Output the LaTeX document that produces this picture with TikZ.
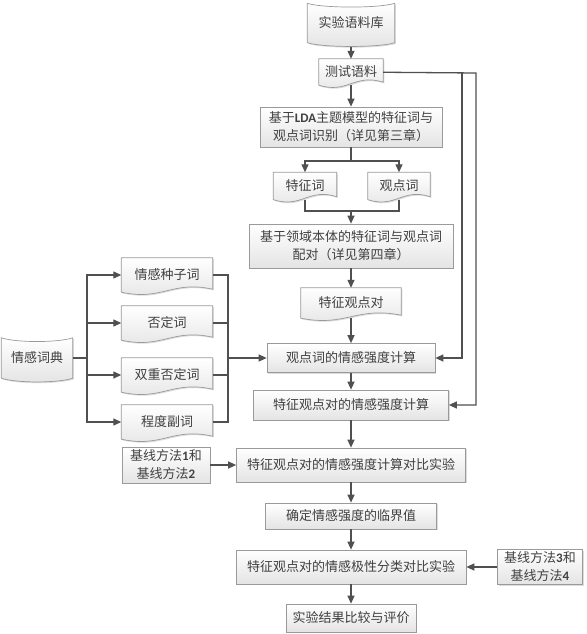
\documentclass[tikz,border=0pt]{standalone}
\usepackage{fontspec}
\setmainfont{Noto Sans CJK SC}
\newfontfamily\latinfont{Carlito}
\usetikzlibrary{arrows.meta, calc, backgrounds, shadows}

\definecolor{textgray}{HTML}{404040}
\definecolor{linegray}{HTML}{9A9A9A}
\definecolor{fillgray}{HTML}{E4E4E4}
\definecolor{arrowgray}{HTML}{505050}

\begin{document}
\begin{tikzpicture}
  [x=1pt, y=-1pt,
   font=\fontsize{13}{18}\selectfont, text=textgray,
   softshadow/.style={drop shadow={shadow xshift=1.2pt, shadow yshift=-1.2pt, opacity=0.3, fill=black!45}},
   procbox/.style={shape=rectangle, draw=linegray, line width=0.7pt, top color=white, bottom color=fillgray, softshadow, inner sep=0pt, align=center},
   docnode/.style={shape=rectangle, inner sep=0pt, align=center},
   storenode/.style={shape=rectangle, inner sep=0pt, align=center},
   outline/.style={draw=linegray, line width=0.7pt, top color=white, bottom color=fillgray, softshadow},
   arrow/.style={-{Triangle[length=8pt, width=7pt]}, line width=1.3pt, draw=arrowgray},
   wire/.style={line width=1.3pt, draw=arrowgray}]
  \useasboundingbox (0, 0) rectangle (586, 634);

  % main column
  \node (corpus) [storenode, minimum width=87pt, minimum height=39pt] at (351, 23) {实验语料库};
  \node (test) [docnode, minimum width=64pt, minimum height=26pt] at (351, 72) {测试语料};
  \node (lda) [procbox, minimum width=182pt, minimum height=40pt] at (351, 127) {基于{\latinfont\bfseries LDA}主题模型的特征词与\\观点词识别（详见第三章）};
  \node (feat) [docnode, minimum width=63pt, minimum height=27pt] at (305, 186) {特征词};
  \node (opin) [docnode, minimum width=62pt, minimum height=27pt] at (399, 186) {观点词};
  \node (pair) [procbox, minimum width=204pt, minimum height=44pt] at (351, 246) {基于领域本体的特征词与观点词\\配对（详见第四章）};
  \node (fopair) [docnode, minimum width=100pt, minimum height=30pt] at (351, 303) {特征观点对};
  \node (ostr) [procbox, minimum width=168pt, minimum height=29pt] at (351, 358) {观点词的情感强度计算};
  \node (pstr) [procbox, minimum width=195pt, minimum height=30pt] at (351, 405) {特征观点对的情感强度计算};
  \node (cmp1) [procbox, minimum width=229pt, minimum height=34pt] at (351, 465) {特征观点对的情感强度计算对比实验};
  \node (thr) [procbox, minimum width=171pt, minimum height=26pt] at (351, 516) {确定情感强度的临界值};
  \node (cmp2) [procbox, minimum width=230pt, minimum height=34pt] at (351, 567) {特征观点对的情感极性分类对比实验};
  \node (eval) [procbox, minimum width=130pt, minimum height=28pt] at (351, 618) {实验结果比较与评价};

  % lexicon side
  \node (lexicon) [storenode, minimum width=71pt, minimum height=40pt] at (37, 358) {情感词典};
  \node (seed) [docnode, minimum width=91pt, minimum height=34pt] at (167, 275) {情感种子词};
  \node (neg) [docnode, minimum width=91pt, minimum height=34pt] at (167, 323) {否定词};
  \node (dneg) [docnode, minimum width=91pt, minimum height=34pt] at (167, 375) {双重否定词};
  \node (degree) [docnode, minimum width=91pt, minimum height=34pt] at (167, 422) {程度副词};

  % baselines
  \node (base12) [procbox, minimum width=88pt, minimum height=36pt] at (166, 465) {基线方法{\latinfont\bfseries 1}和\\基线方法{\latinfont\bfseries 2}};
  \node (base34) [procbox, minimum width=85pt, minimum height=35pt] at (540, 567) {基线方法{\latinfont\bfseries 3}和\\基线方法{\latinfont\bfseries 4}};

  % outlines of the stores and documents
  \begin{scope}[on background layer]
    \foreach \n in {corpus, lexicon}
      \path [outline] (\n.north west) .. controls +(15, 5) and +(-15, 5) .. (\n.north east)
        -- (\n.south east) .. controls +(-15, 5) and +(15, 5) .. (\n.south west) -- cycle;
    \foreach \n in {test, feat, opin, fopair, seed, neg, dneg, degree}
      \path [outline] (\n.north west) -- (\n.north east) -- ($(\n.south east) + (0, -3)$)
        .. controls ($(\n.south east)!0.45!(\n.south west) + (0, -12)$)
        and ($(\n.south west)!0.45!(\n.south east) + (0, 9)$) .. (\n.south west) -- cycle;
  \end{scope}

  \coordinate (split) at (351, 161);
  \coordinate (merge) at (351, 211);
  \coordinate (near) at (462, 73);
  \coordinate (far) at (476, 73);
  \coordinate (lbus) at (87, 358);
  \coordinate (rbus) at (228, 358);

  \draw [arrow, shorten <=4pt] (corpus) to (test);
  \draw [arrow] (test) to (lda);
  \draw [wire] (lda) to (split);
  \draw [arrow] (split) -| (feat);
  \draw [arrow] (split) -| (opin);
  \draw [wire] (feat) |- (merge);
  \draw [wire] (opin) |- (merge);
  \draw [arrow] (merge) to (pair);
  \draw [arrow] (pair) to (fopair);
  \draw [arrow] (fopair) to (ostr);
  \draw [arrow] (ostr) to (pstr);
  \draw [arrow] (pstr) to (cmp1);
  \draw [arrow] (cmp1) to (thr);
  \draw [arrow] (thr) to (cmp2);
  \draw [arrow] (cmp2) to (eval);
  \draw [arrow] (base12) to (cmp1);
  \draw [arrow] (base34) to (cmp2);

  \draw [arrow] (test) -- (far) |- (pstr);
  \draw [arrow] (near) |- (ostr);

  \draw [wire] (lexicon) to (lbus);
  \foreach \n in {seed, neg, dneg, degree} {
    \draw [arrow] (lbus) |- (\n);
    \draw [wire] (\n) -| (rbus);
  }
  \draw [arrow] (rbus) to (ostr);
\end{tikzpicture}
\end{document}
